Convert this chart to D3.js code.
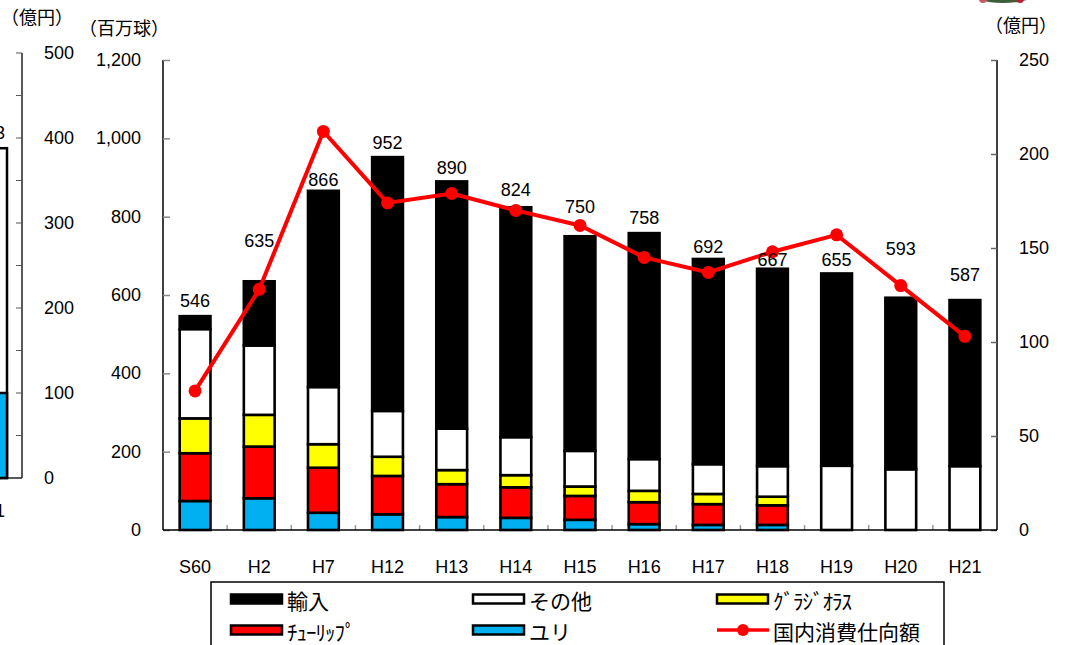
<!DOCTYPE html>
<html><head><meta charset="utf-8">
<script src="https://cdn.jsdelivr.net/npm/d3@7"></script>
<style>
body{margin:0;background:#fff;}
svg{display:block;}
text{font-family:"Liberation Sans",Arial,sans-serif;fill:#000;}
.jp{font-family:"Noto Sans CJK JP",sans-serif;}
</style></head><body>
<svg id="c" width="1073" height="645"></svg>
<script>
// ---------- data ----------
const categories = ["S60","H2","H7","H12","H13","H14","H15","H16","H17","H18","H19","H20","H21"];
const lily      = [74, 81, 44, 40, 33, 31, 26, 15, 13, 13, 0, 0, 0];
const tulip     = [122,132,115,98, 84, 78, 61, 56, 53, 50, 0, 0, 0];
const gladiolus = [89, 81, 60, 49, 36, 31, 24, 29, 26, 22, 0, 0, 0];
const other     = [228,177,146,117,106,97, 91, 81, 76, 78, 164,155,163];
const totals    = [546,635,866,952,890,824,750,758,692,667,655,593,587];
const domestic  = [74, 128,212,174,179,170,162,145,137,148,157,130,103];
const leftTicks = [0,200,400,600,800,1000,1200];
const rightTicks= [0,50,100,150,200,250];
const seriesNames = ["ユリ","ﾁｭｰﾘｯﾌﾟ","ｸﾞﾗｼﾞｵﾗｽ","その他","輸入"];
const seriesColors= ["#00B0F0","#FF0000","#FFFF00","#FFFFFF","#000000"];
const lineName = "国内消費仕向額";
// fragment of neighbouring chart (left edge)
const fragTicks = [0,100,200,300,400,500];
const fragMinor = [50,150,250,350,450];
const fragBar = {total:388, lily:100};

// layout: distance (px) of each total label above its bar top (labels were hand-placed around the line)
const labelLift = [15,40,11,14,13,17,29,15,12,9,13,49,25];

// ---------- setup ----------
const svg = d3.select("#c");
const imports = totals.map((t,i)=>t-lily[i]-tulip[i]-gladiolus[i]-other[i]);
const rows = categories.map((c,i)=>({cat:c, s0:lily[i], s1:tulip[i], s2:gladiolus[i], s3:other[i], s4:imports[i]}));
const keys = ["s0","s1","s2","s3","s4"];
const stack = d3.stack().keys(keys)(rows);

const x = d3.scaleBand().domain(categories).range([163,997]).paddingInner(0.52).paddingOuter(0.26);
const xs = d3.scalePoint().domain(categories).range([163,997]).padding(0.5);
const y = d3.scaleLinear().domain([0,1200]).range([530,60]);
const y2 = d3.scaleLinear().domain([0,250]).range([530,60]);
const FS = "18px";

// ---------- fragment chart at left ----------
const fy = d3.scaleLinear().domain([0,500]).range([478,53]);
const frag = svg.append("g");
frag.append("rect").attr("x",-20).attr("y",fy(fragBar.total)).attr("width",27).attr("height",fy(0)-fy(fragBar.total))
  .attr("fill","#fff").attr("stroke","#000").attr("stroke-width",2.5);
frag.append("rect").attr("x",-20).attr("y",fy(fragBar.lily)).attr("width",27).attr("height",fy(0)-fy(fragBar.lily))
  .attr("fill","#00B0F0").attr("stroke","#000").attr("stroke-width",2.5);
frag.append("text").attr("x",5).attr("y",fy(fragBar.total)-15).attr("text-anchor","end").attr("dominant-baseline","central")
  .style("font-size",FS).text("383");
frag.append("text").attr("x",5).attr("y",511).attr("text-anchor","end").attr("dominant-baseline","central")
  .style("font-size",FS).text("H21");
frag.append("line").attr("x1",22).attr("x2",22).attr("y1",fy(500)).attr("y2",fy(0)).attr("stroke","#000").attr("stroke-width",1.3);
frag.append("line").attr("x1",0).attr("x2",22).attr("y1",fy(0)).attr("y2",fy(0)).attr("stroke","#000").attr("stroke-width",1.3);
frag.selectAll(".ft").data(fragTicks.concat(fragMinor)).join("line")
  .attr("x1",16).attr("x2",22).attr("y1",d=>fy(d)).attr("y2",d=>fy(d)).attr("stroke","#555").attr("stroke-width",1);
frag.selectAll(".fl").data(fragTicks).join("text")
  .attr("x",44).attr("y",d=>fy(d)).attr("dominant-baseline","central").style("font-size",FS).text(d=>d);
frag.append("text").attr("class","jp").attr("x",1).attr("y",16).attr("dominant-baseline","central")
  .style("font-size","18px").text("（億円）");

// top-right picture fragment
const pic = svg.append("g");
pic.append("ellipse").attr("cx",1003).attr("cy",-6).attr("rx",32).attr("ry",9).attr("fill","#3d5c38");
pic.append("circle").attr("cx",983).attr("cy",-1).attr("r",4).attr("fill","#c85a6a");
pic.append("circle").attr("cx",1020).attr("cy",-1).attr("r",4).attr("fill","#b8203a");

// ---------- axes ----------
svg.append("text").attr("class","jp").attr("x",79).attr("y",27).attr("dominant-baseline","central")
  .style("font-size","18px").text("（百万球）");
svg.append("text").attr("class","jp").attr("x",985).attr("y",24).attr("dominant-baseline","central")
  .style("font-size","18px").text("（億円）");

const gl = svg.append("g").attr("transform","translate(163,0)")
  .call(d3.axisRight(y).tickValues(leftTicks).tickSize(7).tickFormat(""));
gl.select(".domain").attr("stroke","#000").attr("stroke-width",1.5).attr("d","M0,60V530");
gl.selectAll(".tick line").attr("stroke","#888").attr("stroke-width",1.5);
svg.selectAll(".ll").data(leftTicks).join("text").attr("x",141).attr("y",d=>y(d)).attr("text-anchor","end")
  .attr("dominant-baseline","central").style("font-size",FS).text(d3.format(","));

const gr = svg.append("g").attr("transform","translate(997,0)")
  .call(d3.axisLeft(y2).tickValues(rightTicks).tickSize(6).tickFormat(""));
gr.select(".domain").attr("stroke","#000").attr("stroke-width",1.5).attr("d","M0,60V530");
gr.selectAll(".tick line").attr("stroke","#666").attr("stroke-width",1.5);
svg.selectAll(".rl").data(rightTicks).join("text").attr("x",1019).attr("y",d=>y2(d))
  .attr("dominant-baseline","central").style("font-size",FS).text(d=>d);

// x axis baseline and category ticks
const boundaries = d3.range(1,categories.length).map(i=>163+i*(834/categories.length));
svg.selectAll(".xt").data(boundaries).join("line").attr("x1",d=>d).attr("x2",d=>d).attr("y1",525).attr("y2",530)
  .attr("stroke","#999").attr("stroke-width",1.5);
svg.selectAll(".xl").data(categories).join("text").attr("x",d=>xs(d)).attr("y",567).attr("text-anchor","middle")
  .attr("dominant-baseline","central").style("font-size",FS).text(d=>d);

// ---------- bars ----------
svg.append("g").selectAll("g").data(stack).join("g").attr("fill",(d,i)=>seriesColors[i])
  .selectAll("rect").data(d=>d.filter(v=>v[1]-v[0]>0)).join("rect")
  .attr("x",d=>x(d.data.cat)).attr("width",x.bandwidth())
  .attr("y",d=>y(d[1])).attr("height",d=>y(d[0])-y(d[1]))
  .attr("stroke","#000").attr("stroke-width",2.6);

svg.append("line").attr("x1",163).attr("x2",997).attr("y1",530).attr("y2",530).attr("stroke","#000").attr("stroke-width",1.5);

// ---------- line ----------
const line = d3.line().x((d,i)=>xs(categories[i])).y(d=>y2(d));
svg.append("path").datum(domestic).attr("d",line).attr("fill","none").attr("stroke","#FF0000").attr("stroke-width",4);
svg.selectAll(".pt").data(domestic).join("circle").attr("cx",(d,i)=>xs(categories[i])).attr("cy",d=>y2(d))
  .attr("r",6.5).attr("fill","#FF0000");

// totals labels
svg.selectAll(".tl").data(categories).join("text").attr("x",d=>xs(d)).attr("y",(d,i)=>y(totals[i])-labelLift[i])
  .attr("text-anchor","middle").attr("dominant-baseline","central").style("font-size",FS).text((d,i)=>totals[i]);

// ---------- legend ----------
const lg = svg.append("g");
lg.append("rect").attr("x",211).attr("y",582).attr("width",733).attr("height",70).attr("fill","#fff").attr("stroke","#000").attr("stroke-width",1.5);
const legendItems = [
  {name:seriesNames[4], color:seriesColors[4], col:0,row:0},
  {name:seriesNames[3], color:seriesColors[3], col:1,row:0},
  {name:seriesNames[2], color:seriesColors[2], col:2,row:0},
  {name:seriesNames[1], color:seriesColors[1], col:0,row:1},
  {name:seriesNames[0], color:seriesColors[0], col:1,row:1},
  {name:lineName, color:"line", col:2,row:1}
];
const colX = [231,473,717], rowY = [599,630];
legendItems.forEach(it=>{
  const lx = colX[it.col], ly = rowY[it.row];
  if(it.color==="line"){
    lg.append("line").attr("x1",lx).attr("x2",lx+52).attr("y1",ly).attr("y2",ly).attr("stroke","#FF0000").attr("stroke-width",3.5);
    lg.append("circle").attr("cx",lx+26).attr("cy",ly).attr("r",6).attr("fill","#FF0000");
    lg.append("text").attr("class","jp").attr("x",lx+56).attr("y",ly+1).attr("dominant-baseline","central").style("font-size","21px").text(it.name);
  } else {
    lg.append("rect").attr("x",lx).attr("y",ly-4.5).attr("width",51).attr("height",9).attr("fill",it.color).attr("stroke","#000").attr("stroke-width",2.5);
    lg.append("text").attr("class","jp").attr("x",lx+56).attr("y",ly+1).attr("dominant-baseline","central").style("font-size","21px")
      .style("letter-spacing", it.name.length>4 ? "-1px" : "0px").text(it.name);
  }
});
</script></body></html>
